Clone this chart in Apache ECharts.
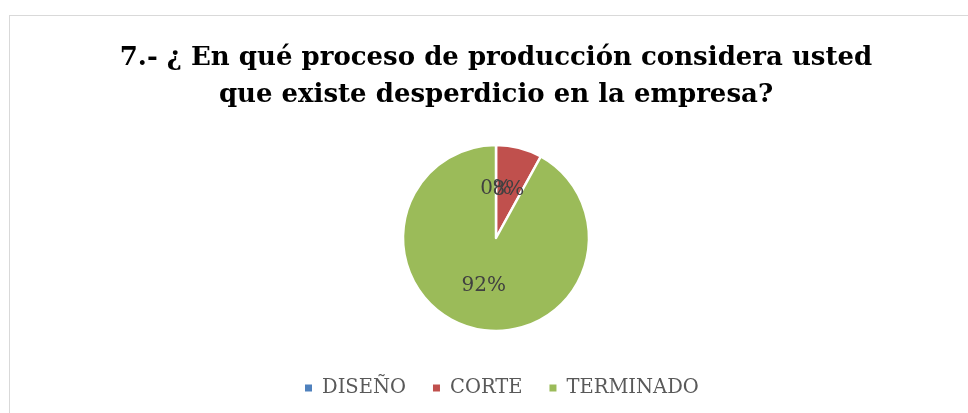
<!DOCTYPE html>
<html>
<head>
<meta charset="utf-8">
<script src="https://cdn.jsdelivr.net/npm/echarts@6/dist/echarts.min.js"></script>
<style>
  html, body { margin: 0; padding: 0; background: #fff; overflow: hidden; width: 968px; height: 413px; }
  #frame { position: absolute; left: 9px; top: 15px; width: 980px; height: 420px; border: 1px solid #d9d9d9; }
  #chart { position: absolute; left: 12px; top: 0; width: 968px; height: 413px; }
</style>
</head>
<body>
<div id="frame"></div>
<div id="chart"></div>
<script>
var categories = ['DISEÑO', 'CORTE', 'TERMINADO'];
var values = [0, 8, 92];
var colors = ['#4F81BD', '#C0504D', '#9BBB59'];

var myChart = echarts.init(document.getElementById('chart'));
var option = {
    title: {
        text: '7.- ¿ En qué proceso de producción considera usted\nque existe desperdicio en la empresa?',
        left: 'center',
        top: 35,
        textStyle: {
            fontFamily: 'DejaVu Serif',
            fontWeight: 'bold',
            fontSize: 26,
            lineHeight: 37,
            color: '#000'
        }
    },
    legend: {
        bottom: 10,
        left: 286,
        icon: 'rect',
        itemWidth: 9,
        itemHeight: 9,
        itemGap: 25,
        data: categories,
        textStyle: { fontFamily: 'DejaVu Serif', fontSize: 19.5, color: '#595959', padding: [0, 0, 0, 4] }
    },
    series: [
        {
            type: 'pie',
            center: ['50%', 238],
            radius: 93,
            startAngle: 90,
            clockwise: true,
            avoidLabelOverlap: false,
            minShowLabelAngle: 0,
            labelLayout: { hideOverlap: false },
            data: categories.map(function (c, i) {
                return { name: c, value: values[i], itemStyle: { color: colors[i] } };
            }),
            itemStyle: { borderColor: '#fff', borderWidth: 2.5 },
            label: {
                show: true,
                position: 'inside',
                formatter: '{d}%',
                fontFamily: 'DejaVu Serif',
                fontSize: 20,
                color: '#404040'
            },
            labelLine: { show: false },
            emphasis: { disabled: true }
        }
    ]
};
myChart.setOption(option);
</script>
</body>
</html>
